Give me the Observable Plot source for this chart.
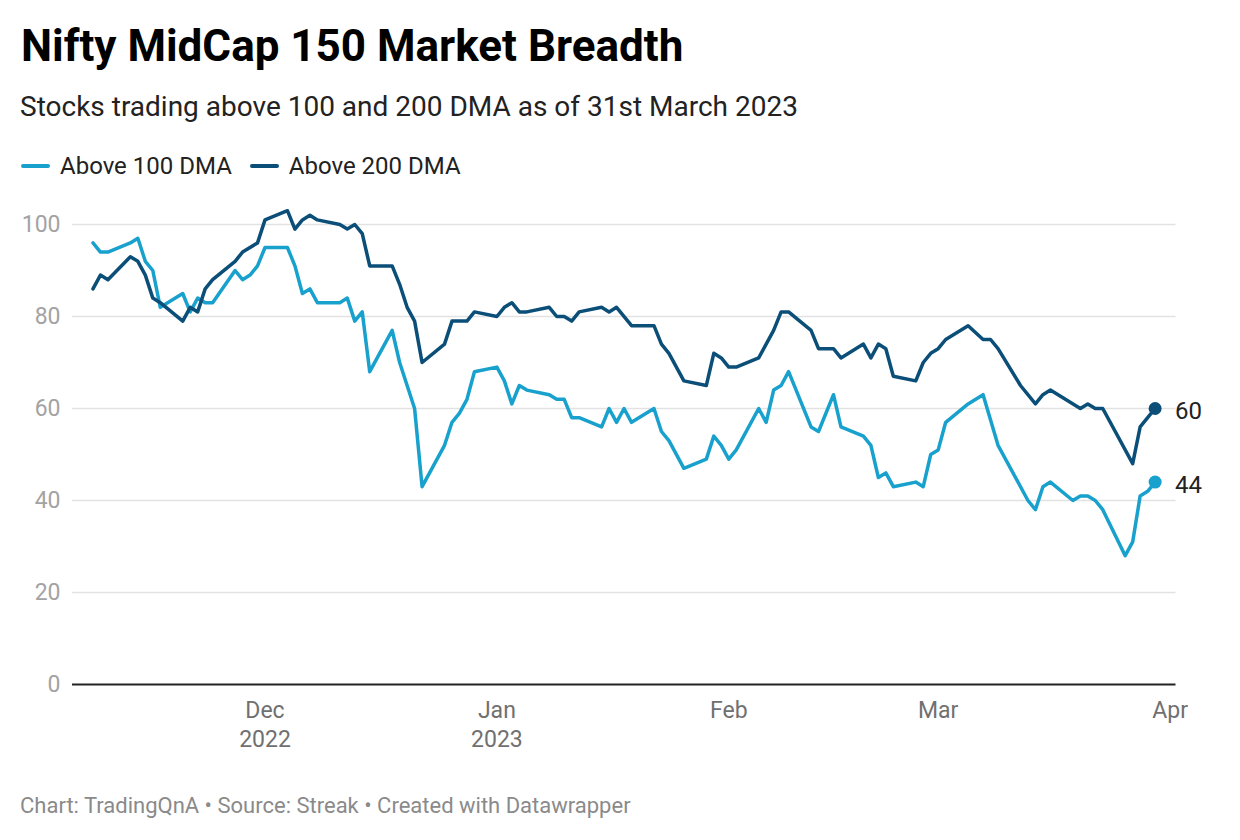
<!DOCTYPE html>
<html>
<head>
<meta charset="utf-8">
<script src="https://cdn.jsdelivr.net/npm/d3@7"></script>
<script src="https://cdn.jsdelivr.net/npm/@observablehq/plot@0.6"></script>
<style>
  html, body { margin: 0; padding: 0; background: #fff; }
  body { width: 1240px; height: 840px; position: relative; font-family: Roboto, "Noto Sans", sans-serif; overflow: hidden; }
  .abs { position: absolute; white-space: nowrap; line-height: 1; }
  #title { left: 21px; top: 24px; font-size: 44px; font-weight: 700; color: #000; }
  #subtitle { left: 20px; top: 93px; font-size: 28px; color: #222; }
  #legend { left: 21px; top: 154px; font-size: 24px; color: #222; display: flex; align-items: center; }
  .sw { display: inline-block; width: 29px; height: 4px; border-radius: 2px; margin-right: 10px; }
  .item { display: flex; align-items: center; margin-right: 18px; }
  #footer { left: 20px; top: 795px; font-size: 22px; color: #8a8a8a; }
  #chart { position: absolute; left: 0; top: 190px; }
</style>
</head>
<body>
<div id="title" class="abs">Nifty MidCap 150 Market Breadth</div>
<div id="subtitle" class="abs">Stocks trading above 100 and 200 DMA as of 31st March 2023</div>
<div id="legend" class="abs"></div>
<div id="chart"></div>
<div id="footer" class="abs">Chart: TradingQnA • Source: Streak • Created with Datawrapper</div>
<script>
const seriesNames = ["Above 100 DMA", "Above 200 DMA"];
const seriesColors = ["#18a1cd", "#0b4f79"];

const dates100 = ["2022-11-08","2022-11-09","2022-11-10","2022-11-13","2022-11-14","2022-11-15","2022-11-16","2022-11-17","2022-11-20","2022-11-21","2022-11-22","2022-11-23","2022-11-24","2022-11-27","2022-11-28","2022-11-29","2022-11-30","2022-12-01","2022-12-04","2022-12-05","2022-12-06","2022-12-07","2022-12-08","2022-12-11","2022-12-12","2022-12-13","2022-12-14","2022-12-15","2022-12-18","2022-12-19","2022-12-20","2022-12-21","2022-12-22","2022-12-25","2022-12-26","2022-12-27","2022-12-28","2022-12-29","2023-01-01","2023-01-02","2023-01-03","2023-01-04","2023-01-05","2023-01-08","2023-01-09","2023-01-10","2023-01-11","2023-01-12","2023-01-15","2023-01-16","2023-01-17","2023-01-18","2023-01-19","2023-01-22","2023-01-23","2023-01-24","2023-01-26","2023-01-29","2023-01-30","2023-01-31","2023-02-01","2023-02-02","2023-02-05","2023-02-06","2023-02-07","2023-02-08","2023-02-09","2023-02-12","2023-02-13","2023-02-15","2023-02-16","2023-02-19","2023-02-20","2023-02-21","2023-02-22","2023-02-23","2023-02-26","2023-02-27","2023-02-28","2023-03-01","2023-03-02","2023-03-05","2023-03-07","2023-03-09","2023-03-13","2023-03-14","2023-03-15","2023-03-16","2023-03-19","2023-03-20","2023-03-21","2023-03-22","2023-03-23","2023-03-26","2023-03-27","2023-03-28","2023-03-29","2023-03-30"];
const values100 = [96,94,94,96,97,92,90,82,85,81,84,83,83,90,88,89,91,95,95,91,85,86,83,83,84,79,81,68,77,70,65,60,43,52,57,59,62,68,69,66,61,65,64,63,62,62,58,58,56,60,57,60,57,60,55,53,47,49,54,52,49,51,60,57,64,65,68,56,55,63,56,54,52,45,46,43,44,43,50,51,57,61,63,52,40,38,43,44,40,41,41,40,38,28,31,41,42,44];

const dates200 = ["2022-11-08","2022-11-09","2022-11-10","2022-11-13","2022-11-14","2022-11-15","2022-11-16","2022-11-17","2022-11-20","2022-11-21","2022-11-22","2022-11-23","2022-11-24","2022-11-27","2022-11-28","2022-11-30","2022-12-01","2022-12-04","2022-12-05","2022-12-06","2022-12-07","2022-12-08","2022-12-11","2022-12-12","2022-12-13","2022-12-14","2022-12-15","2022-12-18","2022-12-19","2022-12-20","2022-12-21","2022-12-22","2022-12-25","2022-12-26","2022-12-28","2022-12-29","2023-01-01","2023-01-02","2023-01-03","2023-01-04","2023-01-05","2023-01-08","2023-01-09","2023-01-10","2023-01-11","2023-01-12","2023-01-15","2023-01-16","2023-01-17","2023-01-19","2023-01-22","2023-01-23","2023-01-24","2023-01-26","2023-01-29","2023-01-30","2023-01-31","2023-02-01","2023-02-02","2023-02-05","2023-02-06","2023-02-07","2023-02-08","2023-02-09","2023-02-12","2023-02-13","2023-02-15","2023-02-16","2023-02-19","2023-02-20","2023-02-21","2023-02-22","2023-02-23","2023-02-26","2023-02-27","2023-02-28","2023-03-01","2023-03-02","2023-03-05","2023-03-07","2023-03-08","2023-03-09","2023-03-12","2023-03-14","2023-03-15","2023-03-16","2023-03-20","2023-03-21","2023-03-22","2023-03-23","2023-03-27","2023-03-28","2023-03-29","2023-03-30"];
const values200 = [86,89,88,93,92,89,84,83,79,82,81,86,88,92,94,96,101,103,99,101,102,101,100,99,100,98,91,91,87,82,79,70,74,79,79,81,80,82,83,81,81,82,80,80,79,81,82,81,82,78,78,74,72,66,65,72,71,69,69,71,74,77,81,81,77,73,73,71,74,71,74,73,67,66,70,72,73,75,78,75,75,73,65,61,63,64,60,61,60,60,48,56,58,60];

const yTicks = [0, 20, 40, 60, 80, 100];
const xTickDates = ["2022-12-01","2023-01-01","2023-02-01","2023-03-01","2023-04-01"];
const xTickLabels = ["Dec\n2022","Jan\n2023","Feb","Mar","Apr"];
const xDomain = ["2022-11-05T06:20:00Z","2023-04-01T19:00:00Z"];

const parse = s => new Date(s.length === 10 ? s + "T00:00:00Z" : s);
const rows100 = dates100.map((d, i) => ({date: parse(d), value: values100[i], series: seriesNames[0]}));
const rows200 = dates200.map((d, i) => ({date: parse(d), value: values200[i], series: seriesNames[1]}));
const lastPts = [rows100[rows100.length - 1], rows200[rows200.length - 1]];
const xTicks = xTickDates.map(parse);
const labelFor = new Map(xTicks.map((d, i) => [+d, xTickLabels[i]]));

// legend
const legend = document.getElementById("legend");
seriesNames.forEach((n, i) => {
  const it = document.createElement("span");
  it.className = "item";
  it.innerHTML = `<span class="sw" style="background:${seriesColors[i]}"></span><span>${n}</span>`;
  legend.appendChild(it);
});

const chart = Plot.plot({
  width: 1240,
  height: 580,
  marginTop: 34,
  marginBottom: 86,
  marginLeft: 72,
  marginRight: 64.5,
  style: {fontFamily: "Roboto, 'Noto Sans', sans-serif", fontSize: "23px", background: "transparent", overflow: "visible"},
  x: {type: "utc", domain: xDomain.map(parse)},
  y: {domain: [0, 100]},
  color: {domain: seriesNames, range: seriesColors},
  marks: [
    Plot.gridY(yTicks.filter(t => t > 0), {stroke: "#e2e2e2", strokeOpacity: 1, strokeWidth: 1.5}),
    Plot.axisY(yTicks, {tickSize: 0, tickPadding: 12, fill: "#a3a3a3", fontSize: 23, label: null}),
    Plot.axisX(xTicks, {tickSize: 0, tickPadding: 13.5, fill: "#707070", fontSize: 23, label: null, lineHeight: 1.24, tickFormat: d => labelFor.get(+d)}),
    Plot.ruleY([0], {stroke: "#222", strokeWidth: 2}),
    Plot.line(rows100, {x: "date", y: "value", stroke: "series", strokeWidth: 3.5, strokeLinejoin: "round", strokeLinecap: "round"}),
    Plot.line(rows200, {x: "date", y: "value", stroke: "series", strokeWidth: 3.5, strokeLinejoin: "round", strokeLinecap: "round"}),
    Plot.dot(lastPts, {x: "date", y: "value", fill: "series", r: 6.5, stroke: null}),
    Plot.text(lastPts, {x: "date", y: "value", text: d => String(d.value), dx: 20, dy: 3, textAnchor: "start", fontSize: 24, fill: "#222"})
  ]
});
document.getElementById("chart").appendChild(chart);
</script>
</body>
</html>
